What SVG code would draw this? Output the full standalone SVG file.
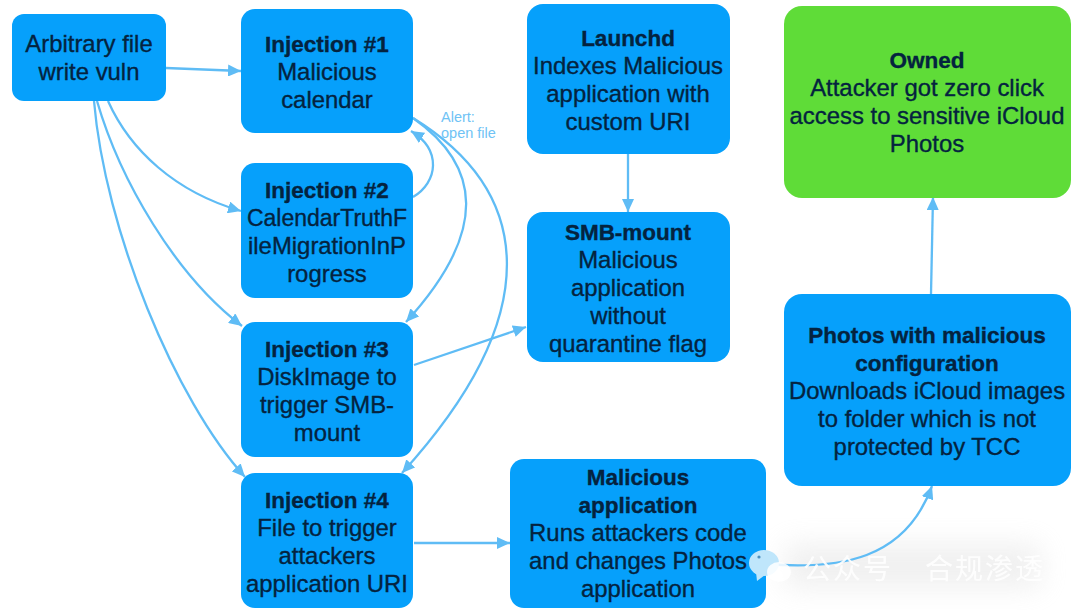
<svg xmlns="http://www.w3.org/2000/svg" width="1080" height="610" viewBox="0 0 1080 610">
<style>
.n{fill:#06a0fb}
.g{fill:#5fdc38}
text{font-family:"Liberation Sans",Arial,sans-serif;font-size:23.9px;fill:#04233f;stroke:#04233f;stroke-width:.35;text-anchor:middle}
text.b{font-weight:bold;font-size:22.5px}
.c path{fill:none;stroke:#5fbcf5;stroke-width:2.3}
text.a{font-size:14.5px;fill:#6fc3f5;stroke:none;text-anchor:start}
text.w{font-family:"Noto Sans CJK SC","Liberation Sans",sans-serif;font-size:28px;fill:#ffffff;stroke:none;text-anchor:start;letter-spacing:2px;opacity:.9}
</style>
<defs>
<marker id="h" markerUnits="userSpaceOnUse" markerWidth="14" markerHeight="12" refX="13" refY="6" orient="auto"><path d="M0 0L13 6L0 12z" fill="#5fbcf5"/></marker>
<filter id="s" x="-30%" y="-100%" width="160%" height="300%"><feGaussianBlur stdDeviation="14"/></filter>
</defs>
<rect width="1080" height="610" fill="#fff"/>
<rect id="wm-shade" x="785" y="545" width="255" height="42" fill="#d8d8d8" opacity=".4" filter="url(#s)"/>
<g id="connectors" class="c">
<path marker-end="url(#h)" d="M166 68L241 71"/>
<path marker-end="url(#h)" d="M108 101C130 150 175 192 241 211"/>
<path marker-end="url(#h)" d="M97 101C120 180 175 275 242 326"/>
<path marker-end="url(#h)" d="M94 101C105 230 175 400 245 477"/>
<path marker-end="url(#h)" d="M413 197C438 182 442 150 411 131"/>
<path marker-end="url(#h)" d="M413 118C480 165 490 230 406 322"/>
<path marker-end="url(#h)" d="M413 118C530 190 550 310 402 473"/>
<path marker-end="url(#h)" d="M414 365L526 327"/>
<path marker-end="url(#h)" d="M628 154L628 212"/>
<path marker-end="url(#h)" d="M414 543L510 543"/>
<path marker-end="url(#h)" d="M766 564C840 570 905 560 932 486"/>
<path marker-end="url(#h)" d="M931 294L933 197"/>
</g>
<text class="a" x="441" y="122">Alert:</text>
<text class="a" x="441" y="138">open file</text>
<g id="vuln"><rect class="n" x="12" y="14" width="154" height="87" rx="12"/><text x="89" y="52">Arbitrary file</text><text x="89" y="80">write vuln</text></g>
<g id="inj1"><rect class="n" x="241" y="9" width="172" height="124" rx="14"/><text class="b" x="327" y="52">Injection #1</text><text x="327" y="80">Malicious</text><text x="327" y="108">calendar</text></g>
<g id="inj2"><rect class="n" x="241" y="163" width="172" height="135" rx="14"/><text class="b" x="327" y="198">Injection #2</text><text x="327" y="226" style="font-size:23px">CalendarTruthF</text><text x="327" y="254">ileMigrationInP</text><text x="327" y="282">rogress</text></g>
<g id="inj3"><rect class="n" x="241" y="322" width="172" height="135" rx="14"/><text class="b" x="327" y="357">Injection #3</text><text x="327" y="385">DiskImage to</text><text x="327" y="413">trigger SMB-</text><text x="327" y="441">mount</text></g>
<g id="inj4"><rect class="n" x="241" y="473" width="172" height="135" rx="14"/><text class="b" x="327" y="508">Injection #4</text><text x="327" y="536">File to trigger</text><text x="327" y="564">attackers</text><text x="327" y="592">application URI</text></g>
<g id="launchd"><rect class="n" x="527" y="4" width="203" height="150" rx="16"/><text class="b" x="628" y="46">Launchd</text><text x="628" y="74">Indexes Malicious</text><text x="628" y="102">application with</text><text x="628" y="130">custom URI</text></g>
<g id="smb"><rect class="n" x="527" y="212" width="203" height="150" rx="16"/><text class="b" x="628" y="240">SMB-mount</text><text x="628" y="268">Malicious</text><text x="628" y="296">application</text><text x="628" y="324">without</text><text x="628" y="352">quarantine flag</text></g>
<g id="malapp"><rect class="n" x="510" y="459" width="256" height="149" rx="14"/><text class="b" x="638" y="485">Malicious</text><text class="b" x="638" y="513">application</text><text x="638" y="541">Runs attackers code</text><text x="638" y="569">and changes Photos</text><text x="638" y="597">application</text></g>
<g id="photos"><rect class="n" x="784" y="294" width="287" height="192" rx="18"/><text class="b" x="927" y="343">Photos with malicious</text><text class="b" x="927" y="371">configuration</text><text x="927" y="399">Downloads iCloud images</text><text x="927" y="427">to folder which is not</text><text x="927" y="455">protected by TCC</text></g>
<g id="owned"><rect class="g" x="784" y="6" width="287" height="192" rx="18"/><text class="b" x="927" y="68">Owned</text><text x="927" y="96">Attacker got zero click</text><text x="927" y="124">access to sensitive iCloud</text><text x="927" y="152">Photos</text></g>
<g id="watermark">
<ellipse cx="764" cy="563" rx="15" ry="13" fill="#bfe6fb"/>
<path d="M756 572l1 9 8-6z" fill="#bfe6fb"/>
<circle cx="759" cy="557" r="1.6" fill="#4a90c0"/>
<ellipse cx="779" cy="572" rx="12" ry="10" fill="#fff" opacity=".85"/>
<text class="w" x="803" y="579">公众号</text>
<text class="w" x="925" y="579">合规渗透</text>
</g>
</svg>
